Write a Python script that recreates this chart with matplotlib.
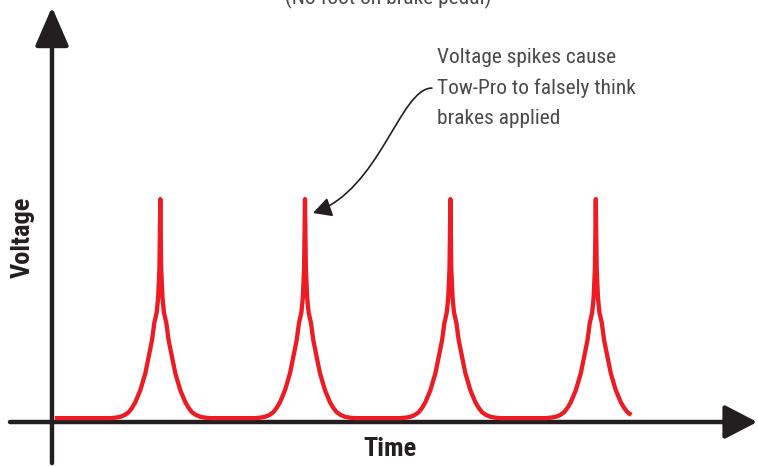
import matplotlib
matplotlib.use("Agg")
import matplotlib.pyplot as plt
import numpy as np
from matplotlib import font_manager
from matplotlib.patches import FancyArrowPatch
from matplotlib.path import Path

# spike centres (time units) and the shape of one spike
spike_times = [1.49, 3.48, 5.48, 7.48]
spike_offsets = [0.0, 0.012, 0.030, 0.050, 0.083, 0.114, 0.161, 0.206, 0.275,
                 0.344, 0.390, 0.436, 0.490, 0.550, 0.620, 0.688]
spike_heights = [9.65, 6.60, 5.30, 4.65, 4.19, 3.44, 2.69, 1.98, 1.23,
                 0.70, 0.45, 0.26, 0.14, 0.06, 0.02, 0.0]
baseline = 0.17
t_start, t_end = 0.04, 7.98

note_text = "Voltage spikes cause\nTow-Pro to falsely think\nbrakes applied"
top_text = "(No foot on brake pedal)"

RED = "#ed1c24"
BLACK = "#231f20"

# narrow font if there is one
names = {f.name for f in font_manager.fontManager.ttflist}
family = "Liberation Sans"
for cand in ["Roboto Condensed", "Liberation Sans Narrow", "Archivo Narrow"]:
    if cand in names:
        family = cand
        break
NARROW = [family, "DejaVu Sans"]

# build the trace
t = [t_start]
v = [baseline]
off = np.array(spike_offsets)
hgt = np.array(spike_heights)
for c in spike_times:
    t += list(c - off[::-1]) + list(c + off[1:])
    v += list(baseline + hgt[::-1]) + list(baseline + hgt[1:])
t = np.array(t)
v = np.array(v)
keep = t <= t_end
t, v = t[keep], v[keep]

fig = plt.figure(figsize=(7.58, 4.66), dpi=100)
ax = fig.add_axes([0, 0, 1, 1])
ax.set_xlim(-0.715, 9.711)
ax.set_ylim(-1.938, 18.59)
ax.axis("off")

# axes with arrow heads
ax.annotate("", xy=(9.70, 0), xytext=(-0.578, 0), annotation_clip=False,
            arrowprops=dict(arrowstyle="-|>,head_length=1.0,head_width=0.52",
                            mutation_scale=20, lw=3.2, color=BLACK,
                            shrinkA=0, shrinkB=0))
ax.annotate("", xy=(0, 18.28), xytext=(0, -1.81), annotation_clip=False,
            arrowprops=dict(arrowstyle="-|>,head_length=1.2,head_width=0.52",
                            mutation_scale=20, lw=3.2, color=BLACK,
                            shrinkA=0, shrinkB=0))

ax.plot(t, v, color=RED, lw=3.1, solid_joinstyle="round",
        solid_capstyle="butt", zorder=3)

ax.text(4.65, -1.17, "Time", ha="center", va="center", fontsize=19,
        fontweight="bold", family=NARROW, color=BLACK)
ax.text(-0.4, 8.13, "Voltage", ha="center", va="center", rotation=90,
        fontsize=19, fontweight="bold", family=NARROW, color=BLACK)

ax.text(5.296, 16.47, note_text, ha="left", va="top", fontsize=15.4,
        fontweight="normal", family=NARROW, color="#4a4a4a", linespacing=1.72)
ax.text(4.62, 18.4, top_text, ha="center", va="baseline", fontsize=15.4,
        fontweight="normal", family=NARROW, color="#4a4a4a")

# curved pointer to the second spike
p0 = (5.226, 14.71)
p1 = (4.787, 14.71)
p2 = (4.512, 10.22)
p3 = (3.590, 9.207)
path = Path([p0, p1, p2, p3], [Path.MOVETO, Path.CURVE4, Path.CURVE4, Path.CURVE4])
ax.add_patch(FancyArrowPatch(path=path, arrowstyle="-|>,head_length=0.75,head_width=0.4",
                             mutation_scale=15, lw=1.2, color=BLACK))

fig.savefig("out.png", dpi=100)
